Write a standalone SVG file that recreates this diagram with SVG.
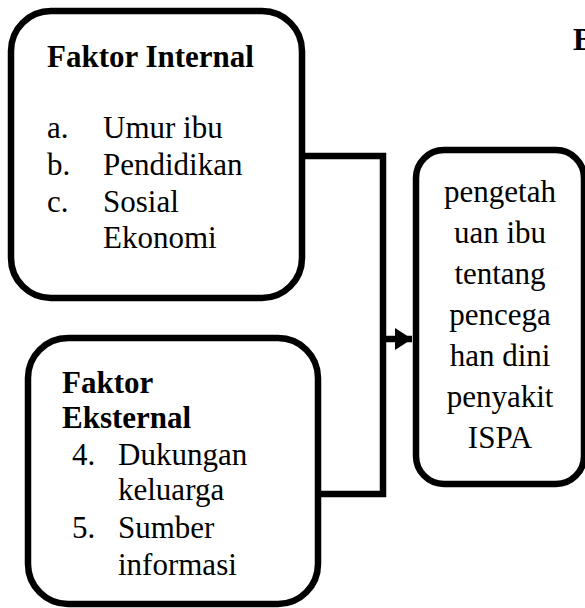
<svg xmlns="http://www.w3.org/2000/svg" width="585" height="608" viewBox="0 0 585 608" font-family="Liberation Serif, serif">
<style>
.box{fill:#fff;stroke:#000;stroke-width:6.5}
.conn{fill:none;stroke:#000;stroke-width:6.5;stroke-linejoin:miter}
</style>
<defs>
<marker id="ah" markerWidth="18" markerHeight="22" refX="17" refY="11" orient="auto" markerUnits="userSpaceOnUse">
<polygon points="0,0 17,11 0,22" fill="#000"/>
</marker>
</defs>
<text font-family="Liberation Serif, serif" font-size="31" font-weight="bold" x="573" y="50">B</text>
<g id="internal" font-family="Liberation Serif, serif" font-size="31">
<rect class="box" x="11" y="11" width="291" height="287" rx="40"/>
<text font-family="Liberation Serif, serif" font-weight="bold" x="47" y="67">Faktor Internal</text>
<text font-family="Liberation Serif, serif" x="47" y="138">a.</text>
<text font-family="Liberation Serif, serif" x="103" y="138">Umur ibu</text>
<text font-family="Liberation Serif, serif" x="47" y="175">b.</text>
<text font-family="Liberation Serif, serif" x="103" y="175">Pendidikan</text>
<text font-family="Liberation Serif, serif" x="47" y="212">c.</text>
<text font-family="Liberation Serif, serif" x="103" y="212">Sosial</text>
<text font-family="Liberation Serif, serif" x="103" y="248">Ekonomi</text>
</g>
<g id="eksternal" font-family="Liberation Serif, serif" font-size="31">
<rect class="box" x="28" y="338" width="290" height="266" rx="40"/>
<text font-family="Liberation Serif, serif" font-weight="bold" x="62" y="393">Faktor</text>
<text font-family="Liberation Serif, serif" font-weight="bold" x="62" y="428">Eksternal</text>
<text font-family="Liberation Serif, serif" x="72" y="465">4.</text>
<text font-family="Liberation Serif, serif" x="118" y="465">Dukungan</text>
<text font-family="Liberation Serif, serif" x="118" y="500">keluarga</text>
<text font-family="Liberation Serif, serif" x="72" y="538">5.</text>
<text font-family="Liberation Serif, serif" x="118" y="538">Sumber</text>
<text font-family="Liberation Serif, serif" x="118" y="575">informasi</text>
</g>
<g id="pengetahuan" font-family="Liberation Serif, serif" font-size="31" text-anchor="middle">
<rect class="box" x="416" y="150" width="168" height="334" rx="28"/>
<text font-family="Liberation Serif, serif" x="500" y="202">pengetah</text>
<text font-family="Liberation Serif, serif" x="500" y="243">uan ibu</text>
<text font-family="Liberation Serif, serif" x="500" y="284">tentang</text>
<text font-family="Liberation Serif, serif" x="500" y="325">pencega</text>
<text font-family="Liberation Serif, serif" x="500" y="366">han dini</text>
<text font-family="Liberation Serif, serif" x="500" y="407">penyakit</text>
<text font-family="Liberation Serif, serif" x="500" y="448">ISPA</text>
</g>
<g id="connectors">
<path class="conn" d="M305 156 H383 V494 H321"/>
<path class="conn" d="M383 339 H412" marker-end="url(#ah)"/>
</g>
</svg>
